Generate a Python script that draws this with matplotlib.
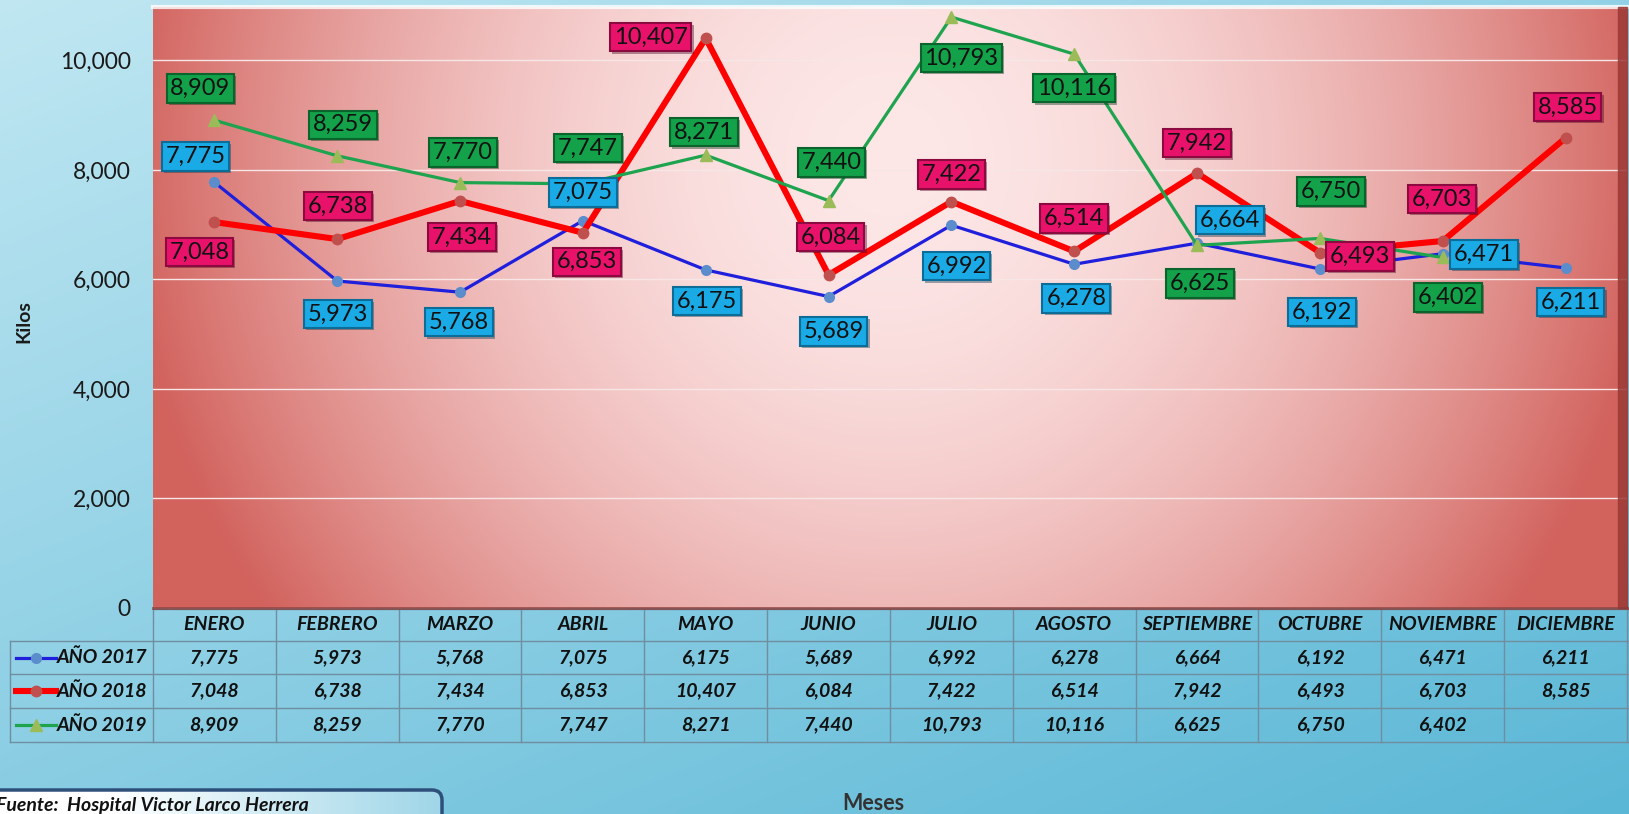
import numpy as np
import matplotlib
matplotlib.use("Agg")
import matplotlib.pyplot as plt
import matplotlib.patheffects as pe
from matplotlib.colors import to_rgb
from matplotlib.patches import FancyBboxPatch, Rectangle
from matplotlib.ticker import FuncFormatter

plt.rcParams['font.family'] = ['Lato', 'DejaVu Sans']

meses = ["ENERO", "FEBRERO", "MARZO", "ABRIL", "MAYO", "JUNIO", "JULIO",
         "AGOSTO", "SEPTIEMBRE", "OCTUBRE", "NOVIEMBRE", "DICIEMBRE"]
nombres = ["AÑO 2017", "AÑO 2018", "AÑO 2019"]
anio_2017 = [7775, 5973, 5768, 7075, 6175, 5689, 6992, 6278, 6664, 6192, 6471, 6211]
anio_2018 = [7048, 6738, 7434, 6853, 10407, 6084, 7422, 6514, 7942, 6493, 6703, 8585]
anio_2019 = [8909, 8259, 7770, 7747, 8271, 7440, 10793, 10116, 6625, 6750, 6402, None]

# where each data label sits relative to its point (pixels, +y is up)
off_2017 = [(-19, 26), (1, -33), (-1, -30), (0, 28), (1, -31), (5, -35),
            (5, -41), (2, -34), (33, 23), (2, -43), (41, -1), (5, -34)]
off_2018 = [(-15, -30), (1, 33), (2, -36), (4, -29), (-55, 1), (2, 38),
            (0, 27), (0, 33), (0, 30), (40, -4), (-1, 42), (2, 31)]
off_2019 = [(-14, 32), (6, 31), (3, 30), (5, 36), (-2, 23), (3, 38),
            (10, -41), (0, -34), (3, -38), (11, 47), (5, -40), (0, 0)]

W, H = 1629, 814


def fx(x):
    return x / W


def fy(y):
    return 1 - y / H


fig = plt.figure(figsize=(W / 100, H / 100), dpi=100)

# background (pixel coords, y going down)
bg = fig.add_axes([0, 0, 1, 1], zorder=-10)
bg.set_axis_off()
yy, xx = np.mgrid[0:H, 0:W]
t = np.clip(0.45 * xx / W + 0.55 * yy / H, 0, 1)
c0 = np.array(to_rgb('#c0e7f2'))
c1 = np.array(to_rgb('#5ab7d6'))
bg.imshow(c0 + (c1 - c0) * t[..., None], extent=[0, W, H, 0], aspect='auto', zorder=0)
bg.set_xlim(0, W)
bg.set_ylim(H, 0)

# main plot
ax = fig.add_axes([fx(153), fy(608), (1627 - 153) / W, (608 - 7) / H])
ax.patch.set_visible(False)
gy, gx = np.mgrid[0:1:300j, 0:1:600j]
d = np.sqrt(((gx - 0.5) / 0.52) ** 2 + ((gy - 0.75) / 1.3) ** 2)
tt = np.clip(d, 0, 1) ** 1.9
p0 = np.array(to_rgb('#fde7e7'))
p1 = np.array(to_rgb('#d2625d'))
ax.imshow(p0 + (p1 - p0) * tt[..., None], extent=[0, 1, 0, 1], origin='lower',
          transform=ax.transAxes, aspect='auto', zorder=-5)

x = np.arange(len(meses))
series = [
    (anio_2017, off_2017, dict(color='#1f1fdc', lw=2.3, marker='o', ms=7,
                               mfc='#5b8dcc', mec='#5b8dcc'), '#1aaae6', '#0b6d98'),
    (anio_2018, off_2018, dict(color='#ff0000', lw=4.4, marker='o', ms=7.5,
                               mfc='#c0504d', mec='#c0504d'), '#e8126b', '#8c0a40'),
    (anio_2019, off_2019, dict(color='#1ea34e', lw=2.3, marker='^', ms=9,
                               mfc='#9bbb59', mec='#9bbb59'), '#13a14a', '#0a642c'),
]

for k, (vals, offs, style, fc, ec) in enumerate(series):
    y = np.array([np.nan if v is None else v for v in vals], dtype=float)
    ax.plot(x, y, zorder=3 + k, **style)

for k, (vals, offs, style, fc, ec) in enumerate(series):
    for i, v in enumerate(vals):
        if v is None:
            continue
        ann = ax.annotate(f"{v:,}", (i, v), xytext=offs[i], textcoords='offset pixels',
                          ha='center', va='center', fontsize=17, color='#111111',
                          zorder=10, annotation_clip=False,
                          bbox=dict(boxstyle='square,pad=0.16', fc=fc, ec=ec, lw=1.5))
        ann.get_bbox_patch().set_path_effects(
            [pe.SimplePatchShadow(offset=(1.5, -1.5), alpha=0.4), pe.Normal()])

ax.set_xlim(-0.5, 11.5)
ax.set_ylim(0, 10977)
ax.set_yticks(range(0, 10001, 2000))
ax.yaxis.set_major_formatter(FuncFormatter(lambda v, p: f"{int(v):,}"))
ax.set_xticks([])
ax.tick_params(axis='y', length=0, pad=16, labelsize=16.5, labelcolor='#1a1a1a')
ax.yaxis.grid(True, color='#f7e6e6', lw=1)
ax.set_axisbelow(True)
for s in ax.spines.values():
    s.set_visible(False)

# bevel on the plot frame
ax.plot([0, 1], [1, 1], transform=ax.transAxes, color='white', lw=3, alpha=0.8,
        clip_on=False, zorder=2)
ax.add_patch(Rectangle((0.994, 0), 0.006, 1, transform=ax.transAxes,
                       color='#9c3a36', alpha=0.85, zorder=2, clip_on=False))
ax.plot([0, 1], [0, 0], transform=ax.transAxes, color='#8a3a36', lw=2, alpha=0.8,
        clip_on=False, zorder=2)

# data table under the plot
col0, colw = 153, (1627 - 153) / 12
rows = [609, 641, 674, 708, 742]
lc = '#6f8ea0'
bg.plot([col0, W], [rows[0], rows[0]], color=lc, lw=1, zorder=2)
for r in rows[1:]:
    bg.plot([10, W], [r, r], color=lc, lw=1, zorder=2)
for c in range(13):
    xc = col0 + c * colw
    bg.plot([xc, xc], [rows[0], rows[-1]], color=lc, lw=1, zorder=2)
bg.plot([10, 10], [rows[1], rows[-1]], color=lc, lw=1, zorder=2)

tstyle = dict(fontsize=14, fontweight='bold', fontstyle='italic', color='#111111',
              ha='center', va='center', zorder=3)
for i, m in enumerate(meses):
    bg.text(col0 + (i + 0.5) * colw, (rows[0] + rows[1]) / 2, m, **tstyle)

for k, (vals, offs, style, fc, ec) in enumerate(series):
    yc = (rows[k + 1] + rows[k + 2]) / 2
    bg.plot([16, 56], [yc, yc], color=style['color'], lw=style['lw'], zorder=3)
    bg.plot([36], [yc], marker=style['marker'], ms=style['ms'], mfc=style['mfc'],
            mec=style['mec'], zorder=4)
    bg.text(57, yc, nombres[k], **{**tstyle, 'ha': 'left'})
    for i, v in enumerate(vals):
        if v is not None:
            bg.text(col0 + (i + 0.5) * colw, yc, f"{v:,}", **tstyle)

# axis titles
bg.text(24, 322, "Kilos", rotation=90, fontsize=14, fontweight='bold',
        color='#1a1a1a', ha='center', va='center')
bg.text(873, 803, "Meses", fontsize=15.5, fontweight='bold', color='#333333',
        ha='center', va='center')

# source box at the bottom left
box = FancyBboxPatch((-30, 790), 472, 60, boxstyle='round,pad=0,rounding_size=10',
                     fc='none', ec='#2d4f7a', lw=2.5, zorder=5)
bg.add_patch(box)
gxx = np.linspace(0, 1, 200)
grad = np.clip((gxx - 0.3) / 0.7, 0, 1)
w0 = np.array(to_rgb('#ffffff'))
w1 = np.array(to_rgb('#9fd6e8'))
gimg = (w0 + (w1 - w0) * grad[:, None])[None, :, :]
im = bg.imshow(gimg, extent=[-30, 442, 850, 790], aspect='auto', zorder=4)
im.set_clip_path(box)
bg.text(-4, 797, "Fuente:  Hospital Victor Larco Herrera", fontsize=14,
        fontweight='bold', fontstyle='italic', color='#111111', ha='left', va='top',
        zorder=6)
bg.set_xlim(0, W)
bg.set_ylim(H, 0)

fig.savefig("out.png", dpi=100)
